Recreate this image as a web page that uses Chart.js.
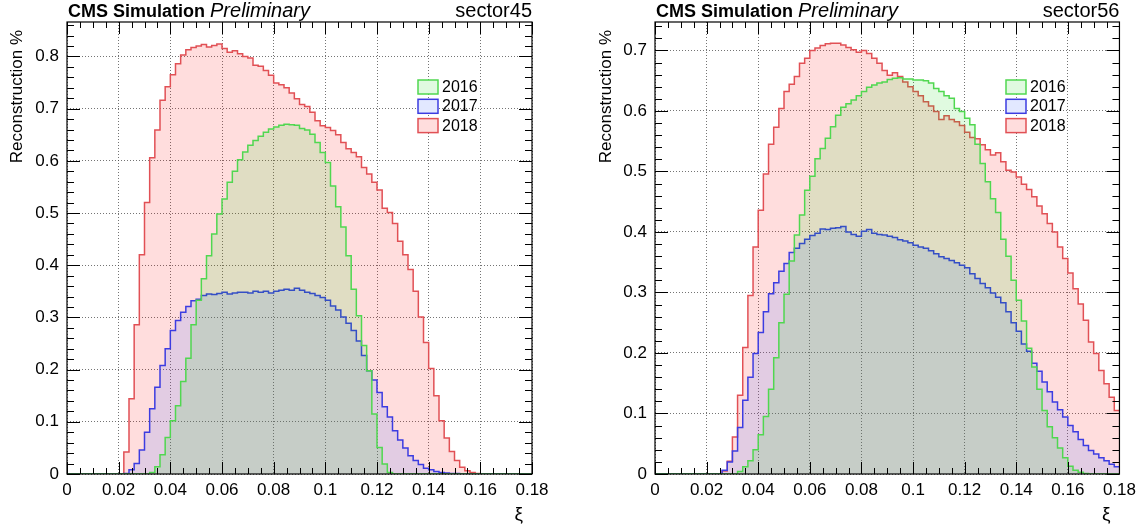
<!DOCTYPE html>
<html>
<head>
<meta charset="utf-8">
<title>Reconstruction vs xi</title>
<script src="https://cdn.jsdelivr.net/npm/chart.js@4.4.1/dist/chart.umd.min.js"></script>
<style>
  html, body { margin: 0; padding: 0; background: #fff; }
  #wrap { position: relative; width: 1142px; height: 530px; }
  canvas { position: absolute; top: 0; }
</style>
</head>
<body>
<div id="wrap">
  <canvas id="c45" width="571" height="530" style="left:0"></canvas>
  <canvas id="c56" width="571" height="530" style="left:571px"></canvas>
</div>
<script>
/* global Chart */

// histogram binning: 90 bins of 0.002 from xi = 0 to 0.18
const binWidth = 0.002;
const years = ['2016', '2017', '2018'];

// sector45
const s45_2016 = [
  0, 0, 0, 0, 0, 0, 0, 0, 0, 0,
  0, 0, 0, 0, 0, 0, 0.003, 0.014, 0.037, 0.070,
  0.102, 0.131, 0.177, 0.222, 0.286, 0.333, 0.374, 0.418, 0.460, 0.498,
  0.527, 0.559, 0.580, 0.602, 0.617, 0.630, 0.639, 0.647, 0.655, 0.661,
  0.665, 0.668, 0.670, 0.669, 0.668, 0.662, 0.659, 0.651, 0.635, 0.616,
  0.597, 0.552, 0.512, 0.473, 0.418, 0.354, 0.303, 0.246, 0.198, 0.115,
  0.051, 0.019, 0.003, 0, 0, 0, 0, 0, 0, 0,
  0, 0, 0, 0, 0, 0, 0, 0, 0, 0,
  0, 0, 0, 0, 0, 0, 0, 0, 0, 0
];
const s45_2017 = [
  0, 0, 0, 0, 0, 0, 0, 0, 0, 0,
  0, 0.001, 0.008, 0.020, 0.046, 0.080, 0.125, 0.166, 0.208, 0.240,
  0.275, 0.294, 0.310, 0.321, 0.332, 0.335, 0.342, 0.345, 0.344, 0.346,
  0.348, 0.345, 0.347, 0.348, 0.348, 0.347, 0.350, 0.348, 0.350, 0.347,
  0.350, 0.352, 0.354, 0.352, 0.356, 0.352, 0.348, 0.346, 0.342, 0.338,
  0.333, 0.322, 0.314, 0.301, 0.289, 0.275, 0.255, 0.227, 0.198, 0.180,
  0.156, 0.129, 0.109, 0.083, 0.065, 0.050, 0.035, 0.026, 0.018, 0.011,
  0.008, 0.005, 0.003, 0.002, 0.001, 0.001, 0, 0, 0, 0,
  0, 0, 0, 0, 0, 0, 0, 0, 0, 0
];
const s45_2018 = [
  0, 0, 0, 0, 0, 0, 0, 0, 0, 0,
  0, 0.042, 0.144, 0.286, 0.420, 0.520, 0.606, 0.659, 0.716, 0.742,
  0.765, 0.786, 0.803, 0.813, 0.817, 0.820, 0.823, 0.818, 0.821, 0.824,
  0.815, 0.808, 0.811, 0.805, 0.800, 0.797, 0.783, 0.781, 0.773, 0.764,
  0.749, 0.746, 0.740, 0.730, 0.719, 0.708, 0.704, 0.693, 0.677, 0.667,
  0.664, 0.658, 0.650, 0.635, 0.623, 0.616, 0.608, 0.587, 0.575, 0.559,
  0.544, 0.509, 0.501, 0.480, 0.446, 0.420, 0.392, 0.350, 0.301, 0.252,
  0.202, 0.150, 0.102, 0.069, 0.043, 0.026, 0.013, 0.006, 0.003, 0.001,
  0, 0, 0, 0, 0, 0, 0, 0, 0, 0
];

// sector56
const s56_2016 = [
  0, 0, 0, 0, 0, 0, 0, 0, 0, 0,
  0, 0, 0, 0, 0, 0, 0.004, 0.012, 0.022, 0.040,
  0.065, 0.095, 0.140, 0.192, 0.250, 0.297, 0.352, 0.395, 0.428, 0.469,
  0.492, 0.521, 0.538, 0.555, 0.574, 0.593, 0.606, 0.612, 0.618, 0.625,
  0.632, 0.639, 0.643, 0.646, 0.648, 0.652, 0.654, 0.655, 0.653, 0.653,
  0.651, 0.651, 0.650, 0.646, 0.637, 0.632, 0.625, 0.621, 0.604, 0.599,
  0.588, 0.577, 0.545, 0.513, 0.483, 0.455, 0.432, 0.388, 0.360, 0.320,
  0.287, 0.253, 0.208, 0.177, 0.140, 0.105, 0.078, 0.060, 0.043, 0.027,
  0.013, 0.006, 0.003, 0.001, 0, 0, 0, 0, 0, 0
];
const s56_2017 = [
  0, 0, 0, 0, 0, 0, 0, 0, 0, 0,
  0, 0, 0, 0.006, 0.020, 0.038, 0.077, 0.122, 0.160, 0.199,
  0.234, 0.268, 0.298, 0.316, 0.335, 0.348, 0.366, 0.373, 0.381, 0.388,
  0.394, 0.398, 0.405, 0.404, 0.406, 0.407, 0.409, 0.400, 0.396, 0.393,
  0.401, 0.404, 0.398, 0.396, 0.395, 0.393, 0.391, 0.387, 0.385, 0.382,
  0.378, 0.375, 0.373, 0.369, 0.364, 0.359, 0.356, 0.353, 0.349, 0.345,
  0.341, 0.331, 0.323, 0.315, 0.308, 0.299, 0.292, 0.283, 0.268, 0.250,
  0.236, 0.215, 0.203, 0.183, 0.170, 0.152, 0.136, 0.119, 0.106, 0.094,
  0.080, 0.070, 0.057, 0.047, 0.039, 0.033, 0.027, 0.022, 0.016, 0.012
];
const s56_2018 = [
  0, 0, 0, 0, 0, 0, 0, 0, 0, 0,
  0, 0, 0, 0.005, 0.021, 0.061, 0.130, 0.209, 0.295, 0.375,
  0.436, 0.496, 0.545, 0.573, 0.604, 0.632, 0.644, 0.657, 0.679, 0.687,
  0.700, 0.704, 0.708, 0.711, 0.712, 0.712, 0.709, 0.705, 0.701, 0.697,
  0.700, 0.695, 0.687, 0.679, 0.667, 0.659, 0.663, 0.657, 0.648, 0.640,
  0.632, 0.625, 0.615, 0.608, 0.599, 0.586, 0.592, 0.586, 0.582, 0.576,
  0.565, 0.556, 0.554, 0.544, 0.536, 0.527, 0.531, 0.516, 0.502, 0.499,
  0.491, 0.479, 0.470, 0.458, 0.443, 0.430, 0.414, 0.400, 0.375, 0.356,
  0.332, 0.306, 0.281, 0.254, 0.218, 0.199, 0.171, 0.149, 0.127, 0.105
];

const lineColors = ['rgb(80, 215, 80)', 'rgb(60, 60, 225)', 'rgb(225, 80, 85)'];
const fillColors = ['rgba(0, 210, 0, 0.12)', 'rgba(60, 100, 255, 0.15)', 'rgba(255, 0, 0, 0.135)'];
const font = '"Liberation Sans", Arial, Helvetica, sans-serif';

// bin contents -> step points at the lower bin edges, closed at the last upper edge
function stepPoints(vals) {
  const pts = vals.map((v, i) => ({ x: i * binWidth, y: v }));
  pts.push({ x: vals.length * binWidth, y: vals[vals.length - 1] });
  return pts;
}

function makeDatasets(series) {
  return series.map((vals, i) => ({
    label: years[i],
    data: stepPoints(vals),
    stepped: true,
    fill: 'origin',
    borderColor: lineColors[i],
    backgroundColor: fillColors[i],
    borderWidth: 1.5,
    pointRadius: 0
  }));
}

// frame + inward ticks on all four sides, like ROOT
const frameTicks = {
  id: 'frameTicks',
  afterDatasetsDraw(chart, args, opts) {
    const { ctx, chartArea: a, scales: { x, y } } = chart;
    ctx.save();
    ctx.strokeStyle = '#000';
    ctx.lineWidth = 1;
    ctx.beginPath();
    for (let k = 0; ; k++) {
      const v = x.min + k * opts.xMinor;
      if (v > x.max + 1e-9) break;
      const px = Math.round(x.getPixelForValue(v)) + 0.5;
      const len = k % opts.xDiv === 0 ? 12 : 6;
      ctx.moveTo(px, a.bottom); ctx.lineTo(px, a.bottom - len);
      ctx.moveTo(px, a.top); ctx.lineTo(px, a.top + len);
    }
    for (let k = 0; ; k++) {
      const v = y.min + k * opts.yMinor;
      if (v > y.max + 1e-9) break;
      const py = Math.round(y.getPixelForValue(v)) + 0.5;
      const len = k % opts.yDiv === 0 ? 13 : 7;
      ctx.moveTo(a.left, py); ctx.lineTo(a.left + len, py);
      ctx.moveTo(a.right, py); ctx.lineTo(a.right - len, py);
    }
    ctx.stroke();
    ctx.lineWidth = 1.2;
    ctx.strokeRect(a.left, a.top, a.right - a.left, a.bottom - a.top);
    ctx.restore();
  }
};

// header, axis titles and legend box
const rootText = {
  id: 'rootText',
  afterDraw(chart, args, opts) {
    const { ctx, chartArea: a } = chart;
    ctx.save();
    ctx.fillStyle = '#000';
    ctx.textBaseline = 'alphabetic';
    ctx.textAlign = 'left';
    ctx.font = 'bold 18px ' + font;
    ctx.fillText('CMS Simulation', a.left + 1, 17);
    const w = ctx.measureText('CMS Simulation ').width;
    ctx.font = 'italic 20px ' + font;
    ctx.fillText('Preliminary', a.left + 1 + w, 17);
    ctx.font = '20px ' + font;
    ctx.textAlign = 'right';
    ctx.fillText(opts.sector, a.right, 17);

    // y title, aligned to the top of the frame
    ctx.save();
    ctx.translate(opts.yTitleX, a.top + 8);
    ctx.rotate(-Math.PI / 2);
    ctx.font = '17px ' + font;
    ctx.textAlign = 'right';
    ctx.textBaseline = 'middle';
    ctx.fillText('Reconstruction %', 0, 0);
    ctx.restore();

    // x title at the right end
    ctx.font = '19px ' + font;
    ctx.textAlign = 'right';
    ctx.textBaseline = 'alphabetic';
    ctx.fillText('\u03be', a.right - 9, 520);

    // legend
    ctx.font = '16px ' + font;
    ctx.textAlign = 'left';
    ctx.textBaseline = 'middle';
    chart.data.datasets.forEach((ds, i) => {
      const top = opts.legendTop + i * 19.3;
      ctx.fillStyle = '#fff';
      ctx.fillRect(opts.legendLeft, top, 20, 14);
      ctx.fillStyle = ds.backgroundColor;
      ctx.fillRect(opts.legendLeft, top, 20, 14);
      ctx.strokeStyle = ds.borderColor;
      ctx.lineWidth = 1.5;
      ctx.strokeRect(opts.legendLeft, top, 20, 14);
      ctx.fillStyle = '#000';
      ctx.fillText(ds.label, opts.legendLeft + 24, top + 7.5);
    });
    ctx.restore();
  }
};

function makeChart(id, series, cfg) {
  const ctx = document.getElementById(id).getContext('2d');
  return new Chart(ctx, {
    type: 'line',
    data: { datasets: makeDatasets(series) },
    plugins: [frameTicks, rootText],
    options: {
      responsive: false,
      animation: false,
      layout: { padding: { left: cfg.padLeft, right: cfg.padRight, top: 22, bottom: 0 } },
      plugins: {
        legend: { display: false },
        tooltip: { enabled: false },
        frameTicks: { xMinor: 0.005, xDiv: 4, yMinor: 0.02, yDiv: 5 },
        rootText: cfg.text
      },
      scales: {
        x: {
          type: 'linear',
          min: 0,
          max: 0.18,
          ticks: {
            stepSize: 0.02,
            color: '#000',
            padding: 6,
            maxRotation: 0,
            autoSkip: false,
            font: { family: font, size: 17 },
            callback: v => String(+v.toFixed(2))
          },
          grid: { color: 'rgba(70, 70, 70, 0.75)', lineWidth: 1, drawTicks: false },
          border: { display: false, dash: [1, 2] },
          afterFit: s => { s.height = 56; }
        },
        y: {
          type: 'linear',
          min: 0,
          max: cfg.yMax,
          ticks: {
            stepSize: 0.1,
            includeBounds: false,
            color: '#000',
            padding: 8,
            font: { family: font, size: 17 },
            callback: v => String(+v.toFixed(1))
          },
          grid: { color: 'rgba(70, 70, 70, 0.75)', lineWidth: 1, drawTicks: false },
          border: { display: false, dash: [1, 2] },
          afterFit: s => { s.width = 67; }
        }
      }
    }
  });
}

makeChart('c45', [s45_2016, s45_2017, s45_2018], {
  padLeft: 0, padRight: 39, yMax: 0.866,
  text: { sector: 'sector45', yTitleX: 17, legendLeft: 418, legendTop: 80 }
});
makeChart('c56', [s56_2016, s56_2017, s56_2018], {
  padLeft: 17, padRight: 22, yMax: 0.747,
  text: { sector: 'sector56', yTitleX: 35, legendLeft: 435, legendTop: 80 }
});
</script>
</body>
</html>
